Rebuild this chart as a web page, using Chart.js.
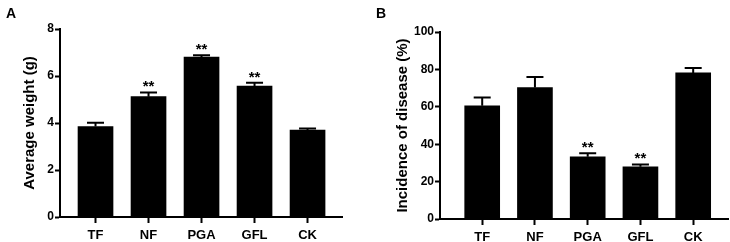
<!DOCTYPE html>
<html lang="en">
<head>
  <meta charset="UTF-8" />
  <title>Average weight and incidence of disease</title>
  <script src="https://cdn.jsdelivr.net/npm/chart.js"></script>
  <style>
    body {
      margin: 0;
      background: #fff;
      font-family: 'Liberation Sans', Arial, sans-serif;
    }
    .panel {
      position: absolute;
      top: 0;
      width: 365px;
      height: 242px;
    }
    .letter {
      position: absolute;
      font-size: 14px;
      font-weight: bold;
      line-height: 14px;
      color: #000;
    }
  </style>
</head>
<body>
  <div class="panel" style="left:0"><canvas id="chartA"></canvas></div>
  <div class="panel" style="left:365px"><canvas id="chartB"></canvas></div>
  <div class="letter" style="left:6px; top:6px">A</div>
  <div class="letter" style="left:376px; top:6px">B</div>

  <script>
  const groups = ['TF', 'NF', 'PGA', 'GFL', 'CK'];

  const weight = [3.85, 5.12, 6.80, 5.57, 3.70];
  const weightErr = [0.16, 0.18, 0.08, 0.14, 0.07];
  const weightStars = ['', '**', '**', '**', ''];
  const weightTicks = [0, 2, 4, 6, 8];

  const incidence = [60.5, 70.3, 33.3, 27.9, 78.1];
  const incidenceErr = [4.5, 5.7, 1.8, 1.3, 2.7];
  const incidenceStars = ['', '', '**', '**', ''];
  const incidenceTicks = [0, 20, 40, 60, 80, 100];

  Chart.defaults.font.family = "'Liberation Sans', Arial, sans-serif";
  Chart.defaults.font.weight = 'bold';
  Chart.defaults.color = '#000';

  // upper error bars + significance marks
  const errorBars = {
    id: 'errorBars',
    afterDatasetsDraw(chart, args, opts) {
      const { ctx, scales: { x, y } } = chart;
      ctx.save();
      ctx.strokeStyle = '#000';
      ctx.lineWidth = 2;
      ctx.fillStyle = '#000';
      ctx.font = "bold 15px 'Liberation Sans', Arial, sans-serif";
      ctx.textAlign = 'center';
      ctx.textBaseline = 'alphabetic';
      opts.values.forEach((v, i) => {
        const cx = x.getPixelForValue(i);
        const top = y.getPixelForValue(v);
        const end = y.getPixelForValue(v + opts.err[i]);
        ctx.beginPath();
        ctx.moveTo(cx, top);
        ctx.lineTo(cx, end);
        ctx.moveTo(cx - 8.5, end);
        ctx.lineTo(cx + 8.5, end);
        ctx.stroke();
        if (opts.stars[i]) ctx.fillText(opts.stars[i], cx, end - 1);
      });
      ctx.restore();
    }
  };

  function makeChart(id, values, err, stars, ticks, title, cfg) {
    return new Chart(document.getElementById(id), {
      type: 'bar',
      data: {
        datasets: [{
          data: values.map((v, i) => ({ x: i, y: v })),
          backgroundColor: '#000',
          borderWidth: 0,
          barThickness: 35
        }]
      },
      plugins: [errorBars],
      options: {
        responsive: true,
        maintainAspectRatio: false,
        animation: false,
        layout: { padding: cfg.padding },
        plugins: {
          legend: { display: false },
          tooltip: { enabled: false },
          errorBars: { values, err, stars }
        },
        scales: {
          x: {
            type: 'linear',
            offset: false,
            min: cfg.xMin,
            max: cfg.xMax,
            afterBuildTicks: s => { s.ticks = groups.map((g, i) => ({ value: i })); },
            afterFit: s => { s.height = cfg.xHeight; },
            ticks: {
              callback: v => groups[v],
              font: { size: 13, weight: 'bold' },
              padding: 5,
              maxRotation: 0
            },
            grid: { drawOnChartArea: false, offset: false, tickLength: 6, tickWidth: 2, color: '#000' },
            border: { color: '#000', width: 2 }
          },
          y: {
            min: ticks[0],
            max: ticks[ticks.length - 1],
            afterBuildTicks: s => { s.ticks = ticks.map(v => ({ value: v })); },
            afterFit: s => { s.width = cfg.yWidth; },
            ticks: { font: { size: 12, weight: 'bold' }, padding: 1 },
            grid: { drawOnChartArea: false, tickLength: 5, tickWidth: 2, color: '#000' },
            border: { color: '#000', width: 2 },
            title: {
              display: true,
              text: title,
              font: { size: 15, weight: 'bold' },
              padding: { top: cfg.titlePad, bottom: 0 }
            }
          }
        }
      }
    });
  }

  makeChart('chartA', weight, weightErr, weightStars, weightTicks, 'Average weight (g)', {
    padding: { top: 29, right: 23, left: 0, bottom: 0 },
    xMin: -0.67, xMax: 4.65, xHeight: 25, yWidth: 60, titlePad: 21
  });

  makeChart('chartB', incidence, incidenceErr, incidenceStars, incidenceTicks, 'Incidence of disease (%)', {
    padding: { top: 32, right: 2, left: 0, bottom: 0 },
    xMin: -0.8, xMax: 4.66, xHeight: 23, yWidth: 75, titlePad: 29
  });
  </script>
</body>
</html>
